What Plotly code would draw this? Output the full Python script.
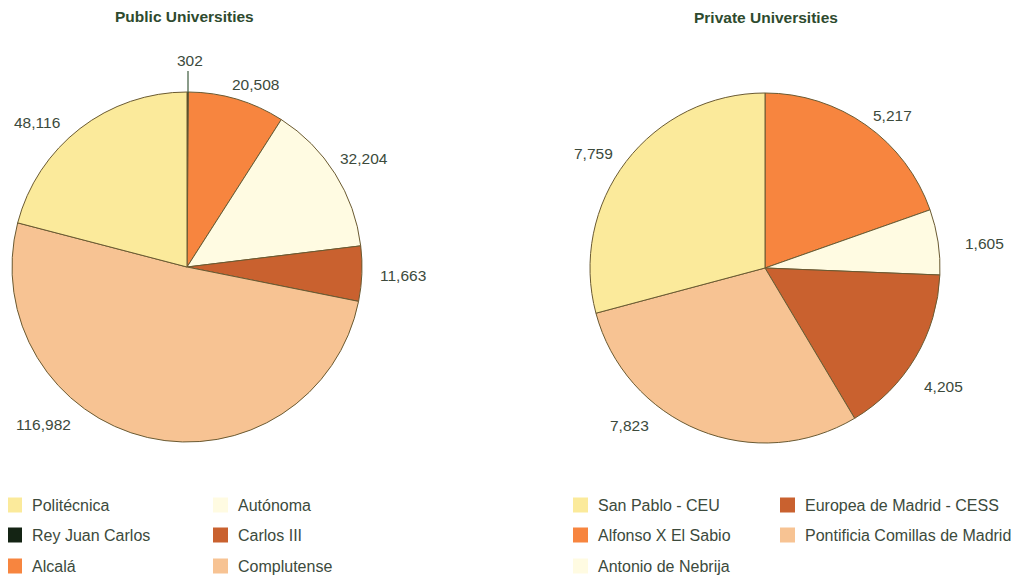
import plotly.graph_objects as go

# The page body adds an 8px margin, so the figure is offset by 8px and
# all reference pixel positions are shifted by that offset.
PAGE_W, PAGE_H = 1032, 578
OFF = 8
W, H = PAGE_W - 2 * OFF, PAGE_H - OFF

# ---- data ----
public_names = ["Rey Juan Carlos", "Alcalá", "Autónoma", "Carlos III", "Complutense", "Politécnica"]
public_values = [302, 20508, 32204, 11663, 116982, 48116]
private_names = ["Alfonso X El Sabio", "Antonio de Nebrija", "Europea de Madrid - CESS",
                 "Pontificia Comillas de Madrid", "San Pablo - CEU"]
private_values = [5217, 1605, 4205, 7823, 7759]

# legend order (column-major)
public_legend = [["Politécnica", "Rey Juan Carlos", "Alcalá"], ["Autónoma", "Carlos III", "Complutense"]]
private_legend = [["San Pablo - CEU", "Alfonso X El Sabio", "Antonio de Nebrija"],
                  ["Europea de Madrid - CESS", "Pontificia Comillas de Madrid"]]

# ---- styles ----
COL = {
    "Politécnica": "#fbea9b", "Rey Juan Carlos": "#142414", "Alcalá": "#f7853f",
    "Autónoma": "#fffbe2", "Carlos III": "#c9612f", "Complutense": "#f7c393",
    "San Pablo - CEU": "#fbea9b", "Alfonso X El Sabio": "#f7853f",
    "Antonio de Nebrija": "#fffbe2", "Europea de Madrid - CESS": "#c9612f",
    "Pontificia Comillas de Madrid": "#f7c393",
}
TXT = "#3c4a3c"
TITLE = "#2e4a2e"
FONT = "Liberation Sans, Arial, sans-serif"
EDGE = "#6a5a32"

# label pixel positions (layout, page pixels)
public_label_px = [(190, 61), (255, 85), (364, 159), (403, 275), (43, 424), (37, 123)]
private_label_px = [(892, 115), (984, 244), (943, 386), (629, 425), (593, 153)]


def px(x, y):
    return (x - OFF) / W, 1 - (y - OFF) / H


def dom(cx, cy, r):
    x0, y0 = px(cx - r, cy + r)
    x1, y1 = px(cx + r, cy - r)
    return dict(x=[x0, x1], y=[y0, y1])


fig = go.Figure()
fig.add_trace(go.Pie(labels=public_names, values=public_values, sort=False, direction="clockwise",
                     rotation=0, textinfo="none", hoverinfo="label+value",
                     marker=dict(colors=[COL[n] for n in public_names], line=dict(color=EDGE, width=1)),
                     domain=dom(187, 267, 175), showlegend=False))
fig.add_trace(go.Pie(labels=private_names, values=private_values, sort=False, direction="clockwise",
                     rotation=0, textinfo="none", hoverinfo="label+value",
                     marker=dict(colors=[COL[n] for n in private_names], line=dict(color=EDGE, width=1)),
                     domain=dom(765, 268, 175), showlegend=False))

ann = []
shapes = []
for vals, poss in ((public_values, public_label_px), (private_values, private_label_px)):
    for v, (x, y) in zip(vals, poss):
        xx, yy = px(x, y)
        ann.append(dict(x=xx, y=yy, xref="paper", yref="paper", text=f"{v:,}", showarrow=False,
                        font=dict(family=FONT, size=15.5, color=TXT), xanchor="center", yanchor="middle"))

# leader for the tiny slice
x0, y0 = px(188, 71)
x1, y1 = px(188, 93)
shapes.append(dict(type="line", xref="paper", yref="paper", x0=x0, y0=y0, x1=x1, y1=y1,
                   line=dict(color="#3c5a3c", width=1.2)))

# titles
for t, x, y in (("Public Universities", 184, 16), ("Private Universities", 766, 17)):
    xx, yy = px(x, y)
    ann.append(dict(x=xx, y=yy, xref="paper", yref="paper", text=f"<b>{t}</b>", showarrow=False,
                    font=dict(family=FONT, size=15.5, color=TITLE), xanchor="center", yanchor="middle"))

# legends
rows_y = [505, 535, 566]
for cols, xs in ((public_legend, [7, 213]), (private_legend, [573, 780])):
    for col, sx in zip(cols, xs):
        for name, ry in zip(col, rows_y):
            a0, b0 = px(sx, ry - 7.5)
            a1, b1 = px(sx + 15, ry + 7.5)
            shapes.append(dict(type="rect", xref="paper", yref="paper", x0=a0, y0=b1, x1=a1, y1=b0,
                               fillcolor=COL[name], line=dict(width=0)))
            tx, ty = px(sx + 23, ry)
            ann.append(dict(x=tx, y=ty, xref="paper", yref="paper", text=name, showarrow=False,
                            font=dict(family=FONT, size=16, color=TXT), xanchor="left", yanchor="middle"))

fig.update_layout(width=W, height=H, margin=dict(l=0, r=0, t=0, b=0),
                  paper_bgcolor="white", plot_bgcolor="white",
                  annotations=ann, shapes=shapes, showlegend=False)
fig.write_html("out.html")
